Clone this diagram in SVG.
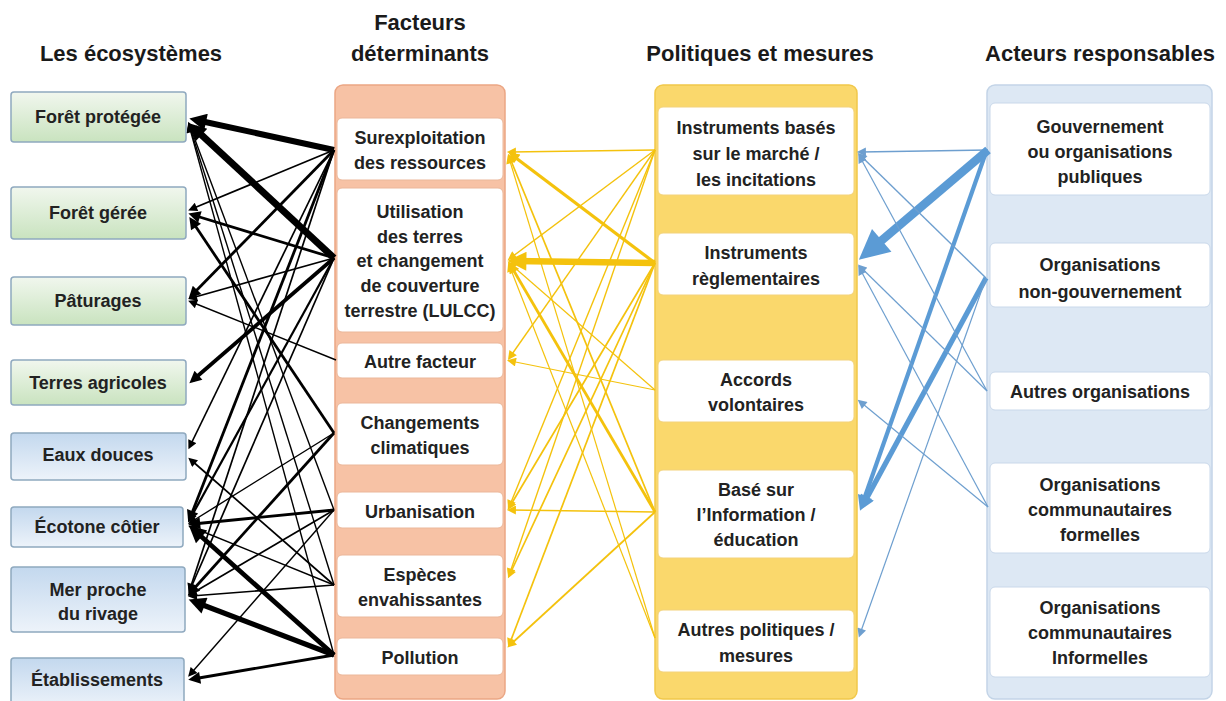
<svg xmlns="http://www.w3.org/2000/svg" width="1226" height="701" viewBox="0 0 1226 701">
<style>
text{font-family:"Liberation Sans",Arial,sans-serif;font-weight:bold;fill:#222;text-anchor:middle}
.h{font-size:22px;fill:#1a1a1a}
.t{font-size:18px}
.eco{stroke:#8FA9BF;stroke-width:1.5}
.g{fill:url(#gg)}
.bl{fill:url(#gb)}
.inner{fill:#fff}
.k{stroke:#000;fill:none}
.y{stroke:#F4C20D;fill:none}
.b{stroke:#5B9BD5;fill:none}
.bt{stroke:#6E9FCF;fill:none}
</style>
<defs>
<linearGradient id="gg" x1="0" y1="0" x2="0" y2="1"><stop offset="0" stop-color="#F1F7EE"/><stop offset="1" stop-color="#C9E3BF"/></linearGradient>
<linearGradient id="gb" x1="0" y1="0" x2="0" y2="1"><stop offset="0" stop-color="#C3D8EE"/><stop offset="1" stop-color="#EDF3FA"/></linearGradient>
<marker id="ks" viewBox="0 0 10 10" refX="6" refY="5" markerWidth="10" markerHeight="9" markerUnits="userSpaceOnUse" orient="auto"><path d="M0,0L10,5L0,10z" fill="#000"/></marker>
<marker id="km" viewBox="0 0 10 10" refX="6" refY="5" markerWidth="14" markerHeight="12" markerUnits="userSpaceOnUse" orient="auto"><path d="M0,0L10,5L0,10z" fill="#000"/></marker>
<marker id="kl" viewBox="0 0 10 10" refX="6" refY="5" markerWidth="20" markerHeight="17" markerUnits="userSpaceOnUse" orient="auto"><path d="M0,0L10,5L0,10z" fill="#000"/></marker>
<marker id="ys" viewBox="0 0 10 10" refX="6" refY="5" markerWidth="10" markerHeight="9" markerUnits="userSpaceOnUse" orient="auto"><path d="M0,0L10,5L0,10z" fill="#F4C20D"/></marker>
<marker id="ym" viewBox="0 0 10 10" refX="6" refY="5" markerWidth="13" markerHeight="11" markerUnits="userSpaceOnUse" orient="auto"><path d="M0,0L10,5L0,10z" fill="#F4C20D"/></marker>
<marker id="yl" viewBox="0 0 10 10" refX="6" refY="5" markerWidth="21" markerHeight="19" markerUnits="userSpaceOnUse" orient="auto"><path d="M0,0L10,5L0,10z" fill="#F4C20D"/></marker>
<marker id="bs" viewBox="0 0 10 10" refX="6" refY="5" markerWidth="10" markerHeight="9" markerUnits="userSpaceOnUse" orient="auto"><path d="M0,0L10,5L0,10z" fill="#6E9FCF"/></marker>
<marker id="bm" viewBox="0 0 10 10" refX="6" refY="5" markerWidth="18" markerHeight="15" markerUnits="userSpaceOnUse" orient="auto"><path d="M0,0L10,5L0,10z" fill="#5B9BD5"/></marker>
<marker id="bl" viewBox="0 0 10 10" refX="6" refY="5" markerWidth="36" markerHeight="30" markerUnits="userSpaceOnUse" orient="auto"><path d="M0,0L10,5L0,10z" fill="#5B9BD5"/></marker>
</defs>
<rect width="1226" height="701" fill="#fff"/>

<g id="headers">
<text class="h" x="131" y="61">Les écosystèmes</text>
<text class="h" x="420" y="30">Facteurs</text>
<text class="h" x="420" y="61">déterminants</text>
<text class="h" x="760" y="61">Politiques et mesures</text>
<text class="h" x="1100" y="61">Acteurs responsables</text>
</g>

<g id="columns">
<rect id="col-facteurs" x="335" y="85" width="170" height="614" rx="8" fill="#F7C2A5" stroke="#EBA684" stroke-width="1.5"/>
<rect id="col-politiques" x="655" y="85" width="202" height="614" rx="8" fill="#FAD86C" stroke="#F1C84A" stroke-width="1.5"/>
<rect id="col-acteurs" x="987" y="85" width="225" height="614" rx="8" fill="#DDE8F4" stroke="#C3D4E7" stroke-width="1.5"/>
</g>

<g id="eco-foret-protegee"><rect class="eco g" x="11" y="92" width="175" height="50" rx="3"/><text class="t" x="98" y="123">Forêt protégée</text></g>
<g id="eco-foret-geree"><rect class="eco g" x="11" y="187" width="175" height="52" rx="3"/><text class="t" x="98" y="219">Forêt gérée</text></g>
<g id="eco-paturages"><rect class="eco g" x="11" y="277" width="175" height="48" rx="3"/><text class="t" x="98" y="307">Pâturages</text></g>
<g id="eco-terres-agricoles"><rect class="eco g" x="11" y="360" width="175" height="45" rx="3"/><text class="t" x="98" y="389">Terres agricoles</text></g>
<g id="eco-eaux-douces"><rect class="eco bl" x="11" y="433" width="175" height="47" rx="3"/><text class="t" x="98" y="461">Eaux douces</text></g>
<g id="eco-ecotone"><rect class="eco bl" x="11" y="507" width="172" height="40" rx="3"/><text class="t" x="97" y="533">Écotone côtier</text></g>
<g id="eco-mer"><rect class="eco bl" x="11" y="567" width="174" height="65" rx="3"/><text class="t" x="98" y="596">Mer proche</text><text class="t" x="98" y="620">du rivage</text></g>
<g id="eco-etablissements"><rect class="eco bl" x="11" y="658" width="173" height="50" rx="3"/><text class="t" x="97" y="686">Établissements</text></g>

<g id="f-surexploitation"><rect class="inner" x="337" y="118" width="166" height="62" rx="5" stroke="#EBB79A"/><text class="t" x="420" y="144">Surexploitation</text><text class="t" x="420" y="169">des ressources</text></g>
<g id="f-lulcc"><rect class="inner" x="337" y="188" width="166" height="144" rx="5" stroke="#EBB79A"/><text class="t" x="420" y="218">Utilisation</text><text class="t" x="420" y="243">des terres</text><text class="t" x="420" y="267">et changement</text><text class="t" x="420" y="292">de couverture</text><text class="t" x="420" y="317">terrestre (LULCC)</text></g>
<g id="f-autre"><rect class="inner" x="337" y="343" width="166" height="35" rx="5" stroke="#EBB79A"/><text class="t" x="420" y="368">Autre facteur</text></g>
<g id="f-climat"><rect class="inner" x="337" y="403" width="166" height="62" rx="5" stroke="#EBB79A"/><text class="t" x="420" y="429">Changements</text><text class="t" x="420" y="454">climatiques</text></g>
<g id="f-urbanisation"><rect class="inner" x="337" y="492" width="166" height="36" rx="5" stroke="#EBB79A"/><text class="t" x="420" y="518">Urbanisation</text></g>
<g id="f-especes"><rect class="inner" x="337" y="555" width="166" height="62" rx="5" stroke="#EBB79A"/><text class="t" x="420" y="581">Espèces</text><text class="t" x="420" y="606">envahissantes</text></g>
<g id="f-pollution"><rect class="inner" x="337" y="638" width="166" height="37" rx="5" stroke="#EBB79A"/><text class="t" x="420" y="664">Pollution</text></g>

<g id="p-marche"><rect class="inner" x="658" y="107" width="196" height="88" rx="5" stroke="#F3D27A"/><text class="t" x="756" y="134">Instruments basés</text><text class="t" x="756" y="160">sur le marché /</text><text class="t" x="756" y="186">les incitations</text></g>
<g id="p-reglementaires"><rect class="inner" x="658" y="233" width="196" height="62" rx="5" stroke="#F3D27A"/><text class="t" x="756" y="259">Instruments</text><text class="t" x="756" y="285">règlementaires</text></g>
<g id="p-accords"><rect class="inner" x="658" y="360" width="196" height="62" rx="5" stroke="#F3D27A"/><text class="t" x="756" y="386">Accords</text><text class="t" x="756" y="411">volontaires</text></g>
<g id="p-information"><rect class="inner" x="658" y="470" width="196" height="88" rx="5" stroke="#F3D27A"/><text class="t" x="756" y="496">Basé sur</text><text class="t" x="756" y="521">l’Information /</text><text class="t" x="756" y="546">éducation</text></g>
<g id="p-autres"><rect class="inner" x="658" y="610" width="196" height="62" rx="5" stroke="#F3D27A"/><text class="t" x="756" y="636">Autres politiques /</text><text class="t" x="756" y="662">mesures</text></g>

<g id="a-gouvernement"><rect class="inner" x="990" y="103" width="220" height="92" rx="5" stroke="#C9D8EA"/><text class="t" x="1100" y="133">Gouvernement</text><text class="t" x="1100" y="158">ou organisations</text><text class="t" x="1100" y="183">publiques</text></g>
<g id="a-ong"><rect class="inner" x="990" y="243" width="220" height="64" rx="5" stroke="#C9D8EA"/><text class="t" x="1100" y="271">Organisations</text><text class="t" x="1100" y="298">non-gouvernement</text></g>
<g id="a-autres"><rect class="inner" x="990" y="372" width="220" height="38" rx="5" stroke="#C9D8EA"/><text class="t" x="1100" y="398">Autres organisations</text></g>
<g id="a-formelles"><rect class="inner" x="990" y="463" width="220" height="90" rx="5" stroke="#C9D8EA"/><text class="t" x="1100" y="491">Organisations</text><text class="t" x="1100" y="516">communautaires</text><text class="t" x="1100" y="541">formelles</text></g>
<g id="a-informelles"><rect class="inner" x="990" y="587" width="220" height="90" rx="5" stroke="#C9D8EA"/><text class="t" x="1100" y="614">Organisations</text><text class="t" x="1100" y="639">communautaires</text><text class="t" x="1100" y="664">Informelles</text></g>

<g id="connectors">
<g id="black-links">
<line class="k" x1="334" y1="150" x2="196" y2="120" stroke-width="6" marker-end="url(#kl)"/>
<line class="k" x1="334" y1="258" x2="194" y2="128" stroke-width="7" marker-end="url(#kl)"/>
<line class="k" x1="334" y1="150" x2="191.5" y2="209" stroke-width="1.7" marker-end="url(#ks)"/>
<line class="k" x1="334" y1="258" x2="193" y2="215" stroke-width="2.8" marker-end="url(#km)"/>
<line class="k" x1="334" y1="433" x2="192" y2="221" stroke-width="2.8" marker-end="url(#km)"/>
<line class="k" x1="334" y1="150" x2="192" y2="295" stroke-width="2.8" marker-end="url(#km)"/>
<line class="k" x1="334" y1="258" x2="191.5" y2="298" stroke-width="1.7" marker-end="url(#ks)"/>
<line class="k" x1="336" y1="360" x2="191.5" y2="302" stroke-width="1.4" marker-end="url(#ks)"/>
<line class="k" x1="334" y1="258" x2="193" y2="380" stroke-width="3.8" marker-end="url(#km)"/>
<line class="k" x1="334" y1="150" x2="190" y2="446" stroke-width="1.7" marker-end="url(#ks)"/>
<line class="k" x1="334" y1="585" x2="191" y2="460" stroke-width="1.7" marker-end="url(#ks)"/>
<line class="k" x1="334" y1="150" x2="190" y2="518" stroke-width="2.8" marker-end="url(#km)"/>
<line class="k" x1="334" y1="258" x2="190" y2="519" stroke-width="2.2" marker-end="url(#ks)"/>
<line class="k" x1="334" y1="433" x2="191" y2="522" stroke-width="1.4" marker-end="url(#ks)"/>
<line class="k" x1="334" y1="510" x2="193" y2="524" stroke-width="2.8" marker-end="url(#km)"/>
<line class="k" x1="334" y1="585" x2="191.5" y2="527" stroke-width="1.4" marker-end="url(#ks)"/>
<line class="k" x1="334" y1="655" x2="194" y2="530" stroke-width="4.8" marker-end="url(#kl)"/>
<line class="k" x1="334" y1="150" x2="190" y2="589" stroke-width="1.7" marker-end="url(#ks)"/>
<line class="k" x1="334" y1="258" x2="190" y2="590" stroke-width="1.7" marker-end="url(#ks)"/>
<line class="k" x1="334" y1="433" x2="191" y2="592" stroke-width="2.8" marker-end="url(#km)"/>
<line class="k" x1="334" y1="510" x2="191" y2="594" stroke-width="1.7" marker-end="url(#ks)"/>
<line class="k" x1="334" y1="585" x2="191.5" y2="596" stroke-width="1.7" marker-end="url(#ks)"/>
<line class="k" x1="334" y1="655" x2="195" y2="602" stroke-width="5.2" marker-end="url(#kl)"/>
<line class="k" x1="334" y1="510" x2="190.5" y2="674" stroke-width="1.4" marker-end="url(#ks)"/>
<line class="k" x1="334" y1="655" x2="193" y2="679" stroke-width="2.8" marker-end="url(#km)"/>
<line class="k" x1="334" y1="510" x2="189.5" y2="125" stroke-width="1.4" marker-end="url(#ks)"/>
<line class="k" x1="334" y1="585" x2="189.5" y2="126" stroke-width="1.4" marker-end="url(#ks)"/>
<line class="k" x1="334" y1="655" x2="189.5" y2="127" stroke-width="1.4" marker-end="url(#ks)"/>
</g>
<g id="yellow-links">
<line class="y" x1="655" y1="150" x2="510.5" y2="152" stroke-width="1.4" marker-end="url(#ys)"/>
<line class="y" x1="655" y1="150" x2="510.5" y2="258" stroke-width="1.4" marker-end="url(#ys)"/>
<line class="y" x1="655" y1="150" x2="510" y2="357" stroke-width="1.4" marker-end="url(#ys)"/>
<line class="y" x1="655" y1="150" x2="509.5" y2="506" stroke-width="1.4" marker-end="url(#ys)"/>
<line class="y" x1="655" y1="150" x2="509.5" y2="574" stroke-width="1.4" marker-end="url(#ys)"/>
<line class="y" x1="655" y1="263" x2="512" y2="155" stroke-width="3.2" marker-end="url(#ym)"/>
<line class="y" x1="655" y1="263" x2="515" y2="261" stroke-width="6.5" marker-end="url(#yl)"/>
<line class="y" x1="655" y1="263" x2="509.5" y2="507" stroke-width="1.7" marker-end="url(#ys)"/>
<line class="y" x1="655" y1="263" x2="509.5" y2="575" stroke-width="1.7" marker-end="url(#ys)"/>
<line class="y" x1="655" y1="263" x2="509.5" y2="644" stroke-width="1.7" marker-end="url(#ys)"/>
<line class="y" x1="655" y1="390" x2="510.5" y2="264" stroke-width="1.2" marker-end="url(#ys)"/>
<line class="y" x1="655" y1="390" x2="510.5" y2="361" stroke-width="1.2" marker-end="url(#ys)"/>
<line class="y" x1="655" y1="512" x2="509.5" y2="157" stroke-width="1.7" marker-end="url(#ys)"/>
<line class="y" x1="655" y1="512" x2="511" y2="266" stroke-width="2.8" marker-end="url(#ym)"/>
<line class="y" x1="655" y1="512" x2="510.5" y2="510" stroke-width="1.7" marker-end="url(#ys)"/>
<line class="y" x1="655" y1="512" x2="510" y2="645" stroke-width="1.7" marker-end="url(#ys)"/>
<line class="y" x1="655" y1="638" x2="509" y2="158" stroke-width="1.2" marker-end="url(#ys)"/>
<line class="y" x1="655" y1="638" x2="509.5" y2="266" stroke-width="1.2" marker-end="url(#ys)"/>
</g>
<g id="blue-links">
<line class="bt" x1="988" y1="150" x2="860.5" y2="152" stroke-width="1.4" marker-end="url(#bs)"/>
<line class="b" x1="988" y1="150" x2="868" y2="252" stroke-width="8.5" marker-end="url(#bl)"/>
<line class="b" x1="985" y1="155" x2="862" y2="505" stroke-width="4.2" marker-end="url(#bm)"/>
<line class="bt" x1="986" y1="278" x2="860.5" y2="155.5" stroke-width="1.4" marker-end="url(#bs)"/>
<line class="b" x1="986" y1="278" x2="863" y2="505" stroke-width="5.2" marker-end="url(#bm)"/>
<line class="bt" x1="986" y1="278" x2="860" y2="634" stroke-width="1.2" marker-end="url(#bs)"/>
<line class="bt" x1="987" y1="391" x2="860" y2="157" stroke-width="1.2" marker-end="url(#bs)"/>
<line class="bt" x1="987" y1="391" x2="860.5" y2="267" stroke-width="1.2" marker-end="url(#bs)"/>
<line class="bt" x1="988" y1="507" x2="860" y2="269" stroke-width="1.2" marker-end="url(#bs)"/>
<line class="bt" x1="988" y1="507" x2="860.5" y2="402" stroke-width="1.2" marker-end="url(#bs)"/>
</g>
</g>
</svg>
